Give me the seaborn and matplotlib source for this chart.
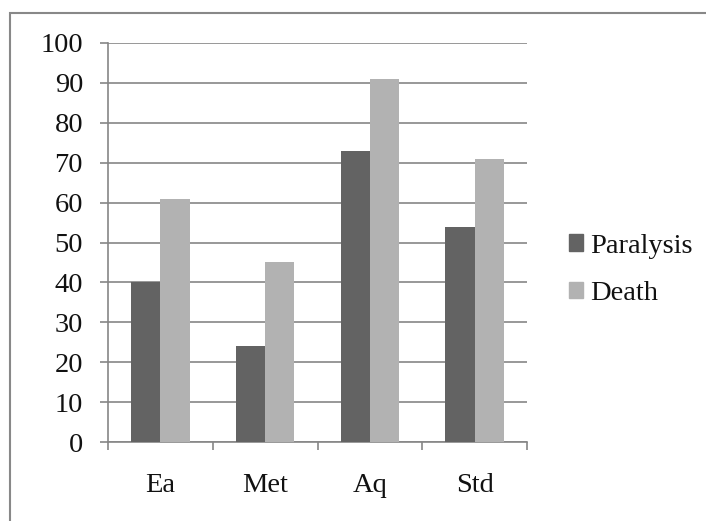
import matplotlib
matplotlib.use("Agg")
import matplotlib.pyplot as plt
import matplotlib.patches as mpatches
import seaborn as sns
import pandas as pd

categories = ["Ea", "Met", "Aq", "Std"]
paralysis = [40, 24, 73, 54]
death = [61, 45, 91, 71]
series_names = ["Paralysis", "Death"]

df = pd.DataFrame({
    "cat": categories * 2,
    "value": paralysis + death,
    "series": [series_names[0]] * 4 + [series_names[1]] * 4,
})

sns.set_style("white")
plt.rcParams["font.family"] = ["Liberation Serif", "DejaVu Serif"]

W, H = 706, 521
fig = plt.figure(figsize=(W / 100, H / 100), dpi=100)
ax = fig.add_axes([108 / W, 1 - 442 / H, (527 - 108) / W, (442 - 43) / H])

grey = "#868686"
sns.barplot(data=df, x="cat", y="value", hue="series", order=categories,
            hue_order=series_names, palette=["#636363", "#b2b2b2"],
            width=0.56, gap=0, linewidth=0, saturation=1, ax=ax, zorder=3)

ax.set_ylim(0, 100)
ax.set_yticks(range(0, 101, 10))
ax.set_xlim(-0.5, 3.5)
ax.set_xlabel("")
ax.set_ylabel("")
ax.yaxis.grid(True, color=grey, linewidth=1.2, zorder=0)
ax.set_axisbelow(True)
for s in ["top", "right"]:
    ax.spines[s].set_visible(False)
for s in ["left", "bottom"]:
    ax.spines[s].set_color(grey)
    ax.spines[s].set_linewidth(1.2)

# category boundary ticks on x axis
ax.set_xticks([-0.5, 0.5, 1.5, 2.5, 3.5], minor=True)
ax.tick_params(axis="x", which="major", length=0, labelsize=20.5, pad=22,
               labelcolor="#111111")
ax.tick_params(axis="x", which="minor", length=6, width=1.2, color=grey, direction="out")
ax.tick_params(axis="y", length=6, width=1.2, color=grey, direction="out",
               labelsize=20.5, pad=12, labelcolor="#111111")
ax.tick_params(left=True, bottom=True)
ax.xaxis.set_tick_params(which="minor", bottom=True)

ax.legend_.remove()
handles = [mpatches.Patch(color=c) for c in ["#636363", "#b2b2b2"]]
fig.legend(handles, series_names, loc="center left",
           bbox_to_anchor=(569 / W, 1 - 270 / H), frameon=False,
           fontsize=20.5, handlelength=0.5, handleheight=0.5, labelcolor="#111111",
           handletextpad=0.25, labelspacing=0.8, borderpad=0, borderaxespad=0)

frame = mpatches.Rectangle((10 / W, -0.1), 1.0, 1.1 - 13 / H, transform=fig.transFigure,
                           fill=False, edgecolor="#888888", linewidth=1.5, clip_on=False)
fig.patches.append(frame)

fig.savefig("out.png", dpi=100)
